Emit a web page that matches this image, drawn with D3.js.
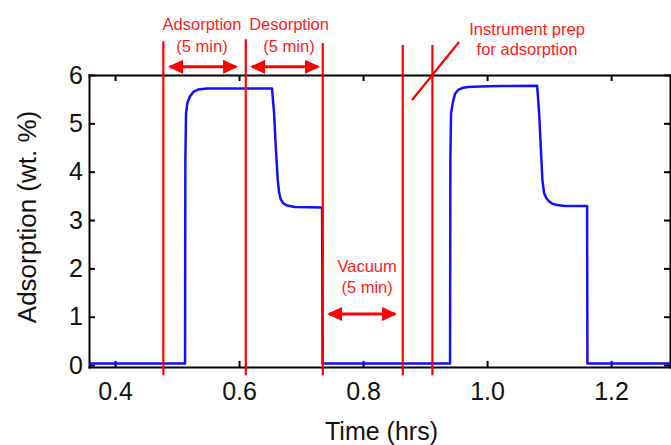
<!DOCTYPE html>
<html>
<head>
  <meta charset="utf-8">
  <script src="https://d3js.org/d3.v7.min.js"></script>
  <style>
  body {
    margin: 0;
    background: #fff;
  }
  svg {
    display: block;
    font-family: "Liberation Sans", Arial, sans-serif;
  }
  .axis path, .axis line {
    stroke: #000;
    stroke-width: 2px;
  }
  .axis text {
    font-size: 25px;
    fill: #111;
  }
  .note {
    font-size: 16.5px;
    fill: #ff1a1a;
    text-anchor: middle;
  }
  </style>
</head>
<body>
<script>

  // measured trace: time (hrs) vs adsorption (wt. %)
  var timeHrs = [0.358, 0.5129, 0.5134, 0.5145, 0.5166, 0.5210, 0.5263, 0.5339, 0.5479, 0.6532,
    0.6540, 0.6565, 0.6592, 0.6624, 0.6645, 0.6669, 0.6710, 0.6774, 0.6903, 0.7339,
    0.7347, 0.9403, 0.9408, 0.9419, 0.9452, 0.9484, 0.9532, 0.9597, 0.9694, 0.9887,
    1.0210, 1.0806, 1.0815, 1.0839, 1.0866, 1.0892, 1.0919, 1.0952, 1.0989, 1.1048,
    1.1129, 1.1258, 1.1613, 1.1618, 1.295];
  var adsorption = [0.03, 0.03, 4.24, 5.21, 5.42, 5.56, 5.65, 5.70, 5.72, 5.72,
    5.59, 5.21, 4.51, 3.83, 3.58, 3.44, 3.35, 3.30, 3.27, 3.26,
    0.03, 0.03, 4.24, 5.21, 5.46, 5.61, 5.69, 5.73, 5.75, 5.76,
    5.77, 5.78, 5.65, 5.21, 4.51, 3.83, 3.56, 3.46, 3.40, 3.34,
    3.31, 3.29, 3.29, 0.03, 0.03];

  var xTicks = [0.4, 0.6, 0.8, 1.0, 1.2];
  var yTicks = [0, 1, 2, 3, 4, 5, 6];

  // red event markers
  var eventTimes = [0.4779, 0.6108, 0.7350, 0.8640, 0.9118];
  var eventTops = [6.70, 6.74, 6.66, 6.62, 6.62];
  var eventBottom = -0.21;

  // double arrows: start, end, level
  var arrowStart = [0.4855, 0.6177, 0.7419];
  var arrowEnd = [0.5984, 0.7306, 0.8548];
  var arrowLevel = [6.17, 6.17, 1.056];

  // annotation text
  var noteLines = ["Adsorption", "(5 min)", "Desorption", "(5 min)",
    "Instrument prep", "for adsorption", "Vacuum", "(5 min)"];
  var noteX = [0.5403, 0.5403, 0.6806, 0.6806, 1.0645, 1.0645, 0.8065, 0.8065];
  var noteY = [6.941, 6.486, 6.941, 6.486, 6.828, 6.414, 1.919, 1.485];

  // slash through the prep marker
  var slashX = [0.879, 0.9548];
  var slashY = [5.483, 6.683];

  var W = 671, H = 445;
  var padL = 89, padR = 670, padT = 75, padB = 367;

  var svg = d3.select("body").append("svg")
    .attr("width", W)
    .attr("height", H);

  var x = d3.scaleLinear().domain([0.358, 1.295]).range([padL, padR]);
  var y = d3.scaleLinear().domain([-0.04, 6]).range([padB, padT]);

  svg.append("g")
    .attr("class", "axis")
    .attr("transform", "translate(0," + padB + ")")
    .call(d3.axisBottom(x).tickValues(xTicks).tickFormat(d3.format(".1f"))
      .tickSizeInner(-6).tickSizeOuter(0).tickPadding(15));

  svg.append("g")
    .attr("class", "axis")
    .attr("transform", "translate(0," + padT + ")")
    .call(d3.axisTop(x).tickValues(xTicks).tickFormat("")
      .tickSizeInner(-6).tickSizeOuter(0));

  svg.append("g")
    .attr("class", "axis")
    .attr("transform", "translate(" + padL + ",0)")
    .call(d3.axisLeft(y).tickValues(yTicks).tickFormat(d3.format("d"))
      .tickSizeInner(-6).tickSizeOuter(0).tickPadding(6));

  svg.append("g")
    .attr("class", "axis")
    .attr("transform", "translate(" + padR + ",0)")
    .call(d3.axisRight(y).tickValues(yTicks).tickFormat("")
      .tickSizeInner(-6).tickSizeOuter(0));

  svg.selectAll(".axis .domain").attr("stroke-linecap", "square");

  // trace
  var line = d3.line()
    .x((d, i) => x(timeHrs[i]))
    .y(d => y(d));

  svg.append("path")
    .datum(adsorption)
    .attr("fill", "none")
    .attr("stroke", "#1010ff")
    .attr("stroke-width", 2.5)
    .attr("stroke-linejoin", "round")
    .attr("d", line);

  // markers
  svg.selectAll(".event")
    .data(eventTimes)
    .enter().append("line")
    .attr("class", "event")
    .attr("x1", d => x(d))
    .attr("x2", d => x(d))
    .attr("y1", (d, i) => y(eventTops[i]))
    .attr("y2", y(eventBottom))
    .attr("stroke", "#ff0000")
    .attr("stroke-width", 2.2);

  svg.append("line")
    .attr("x1", x(slashX[0]))
    .attr("y1", y(slashY[0]))
    .attr("x2", x(slashX[1]))
    .attr("y2", y(slashY[1]))
    .attr("stroke", "#ff0000")
    .attr("stroke-width", 2.2);

  svg.append("defs").append("marker")
    .attr("id", "head")
    .attr("markerUnits", "userSpaceOnUse")
    .attr("viewBox", "0 -7 15 14")
    .attr("refX", 13)
    .attr("refY", 0)
    .attr("markerWidth", 15)
    .attr("markerHeight", 14)
    .attr("orient", "auto-start-reverse")
    .append("path")
    .attr("d", "M0,-7L15,0L0,7Z")
    .attr("fill", "#ff0000");

  svg.selectAll(".arrow")
    .data(arrowStart)
    .enter().append("line")
    .attr("class", "arrow")
    .attr("x1", d => x(d) + 2)
    .attr("x2", (d, i) => x(arrowEnd[i]) - 2)
    .attr("y1", (d, i) => y(arrowLevel[i]))
    .attr("y2", (d, i) => y(arrowLevel[i]))
    .attr("stroke", "#ff0000")
    .attr("stroke-width", 3)
    .attr("marker-start", "url(#head)")
    .attr("marker-end", "url(#head)");

  svg.selectAll(".note")
    .data(noteLines)
    .enter().append("text")
    .attr("class", "note")
    .attr("x", (d, i) => x(noteX[i]))
    .attr("y", (d, i) => y(noteY[i]))
    .text(d => d);

  // axis titles
  svg.append("text")
    .attr("x", 381.5)
    .attr("y", 440)
    .attr("text-anchor", "middle")
    .style("font-size", "25px")
    .style("fill", "#111")
    .text("Time (hrs)");

  svg.append("text")
    .attr("transform", "translate(36,217) rotate(-90)")
    .attr("text-anchor", "middle")
    .style("font-size", "26px")
    .style("fill", "#111")
    .text("Adsorption (wt. %)");

</script>
</body>
</html>
